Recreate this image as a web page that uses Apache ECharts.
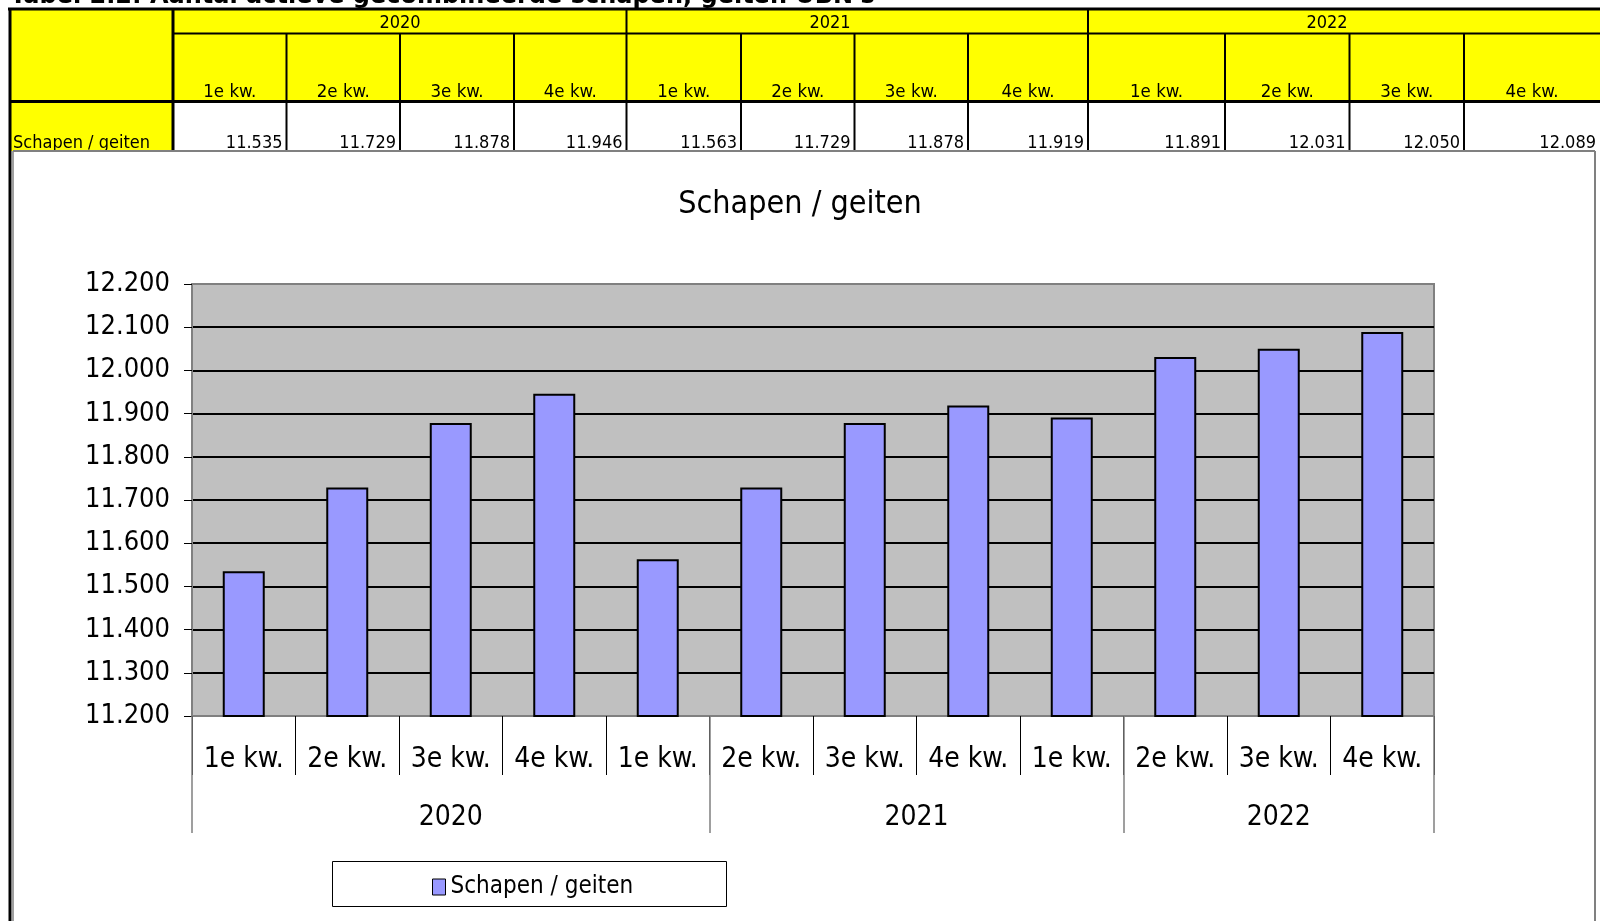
<!DOCTYPE html>
<html>
<head>
<meta charset="utf-8">
<title>Schapen / geiten</title>
<script src="https://cdn.jsdelivr.net/npm/echarts@6.0.0/dist/echarts.min.js"></script>
<style>
  html, body { margin: 0; padding: 0; background: #fff; }
  #main { width: 1600px; height: 921px; }
</style>
</head>
<body>
<div id="main"></div>
<script>
// gegevens
var tableTitle = "Tabel 2.2: Aantal actieve gecombineerde schapen, geiten UBN's";
var seriesName = "Schapen / geiten";
var quarters = ["1e kw.", "2e kw.", "3e kw.", "4e kw.", "1e kw.", "2e kw.", "3e kw.", "4e kw.", "1e kw.", "2e kw.", "3e kw.", "4e kw."];
var values = [11535, 11729, 11878, 11946, 11563, 11729, 11878, 11919, 11891, 12031, 12050, 12089];
var tableYears = ["2020", "2021", "2022"];
// in de grafiek zijn de jaren zo gegroepeerd (5 + 4 + 3 staven)
var axisYears = ["2020", "2021", "2022"];
var axisYearBreaks = [0, 5, 9, 12];
var yMin = 11200;
var yMax = 12200;
var yStep = 100;

var FONT = '"Liberation Sans Narrow", "DejaVu Sans Condensed", "Liberation Sans", sans-serif';

// 12200 -> "12.200"
function nl(v) {
  return String(v).replace(/\B(?=(\d{3})+(?!\d))/g, ".");
}

// ---- tabel boven de grafiek (graphic) ----
var colX = [10, 173, 286.5, 400, 514, 626.5, 741, 854.5, 968, 1088, 1225, 1349.5, 1464, 1600];
var yearStartCols = [1, 5, 9];
var yearTextX = [400, 830, 1327];
var g = [];

function line(x1, y1, x2, y2, w, c) {
  g.push({ type: "line", shape: { x1: x1, y1: y1, x2: x2, y2: y2 }, style: { stroke: c || "#000", lineWidth: w } });
}
function txt(x, y, s, size, align) {
  g.push({
    type: "text", x: x, y: y,
    style: { text: s, fill: "#000", fontSize: size, fontFamily: FONT, align: align, verticalAlign: "middle" }
  });
}

// titel, grotendeels buiten beeld
g.push({
  type: "text", x: 10, y: 9,
  style: { text: tableTitle, fill: "#000", fontSize: 24, fontWeight: "bold", fontFamily: '"DejaVu Sans", sans-serif', verticalAlign: "bottom" }
});

g.push({ type: "rect", shape: { x: 10, y: 9, width: 1590, height: 92.5 }, style: { fill: "#ffff00" } });
g.push({ type: "rect", shape: { x: 10, y: 101.5, width: colX[1] - 10, height: 49.5 }, style: { fill: "#ffff00" } });

line(8, 9, 1600, 9, 3);
line(10, 8, 10, 921, 3);
line(colX[1], 33.5, 1600, 33.5, 2);
line(10, 101.5, 1600, 101.5, 3);
for (var i = 1; i < colX.length - 1; i++) {
  var isYear = yearStartCols.indexOf(i) >= 0;
  line(colX[i], isYear ? 9 : 33.5, colX[i], 151, i === 1 ? 3 : 2);
}

tableYears.forEach(function (y, k) { txt(yearTextX[k], 23, y, 18, "center"); });
quarters.forEach(function (q, k) {
  txt((colX[k + 1] + colX[k + 2]) / 2, 92, q, 18.5, "center");
  txt(colX[k + 2] - 4, 143, nl(values[k]), 18, "right");
});
txt(13, 143, seriesName, 18, "left");

// kader van de grafiek
line(13, 151, 1595, 151, 2, "#808080");
line(13, 151, 13, 921, 1.5, "#808080");
line(1595, 151, 1595, 921, 2, "#808080");

// legenda kader
g.push({ type: "rect", shape: { x: 332.5, y: 861.5, width: 394, height: 45 }, style: { fill: "#fff", stroke: "#000", lineWidth: 1 } });

// ---- grafiek ----
var chart = echarts.init(document.getElementById("main"));

var gridColors = [];
for (var v = yMin; v <= yMax; v += yStep) {
  gridColors.push(v === yMin || v === yMax ? "#808080" : "#000");
}

var yearCenters = axisYears.map(function (y, k) {
  return (axisYearBreaks[k] + axisYearBreaks[k + 1]) / 2;
});

var option = {
  animation: false,
  textStyle: { fontFamily: FONT },
  title: {
    text: seriesName,
    left: "center",
    top: 184,
    textStyle: { fontSize: 32, fontWeight: "normal", color: "#000", fontFamily: FONT }
  },
  grid: {
    left: 192,
    top: 284,
    width: 1242,
    height: 432,
    show: true,
    backgroundColor: "#c0c0c0",
    borderColor: "#808080",
    borderWidth: 2
  },
  legend: {
    data: [seriesName],
    left: 432,
    top: 875,
    padding: 0,
    icon: "rect",
    itemWidth: 13,
    itemHeight: 16,
    itemStyle: { borderColor: "#000", borderWidth: 1 },
    textStyle: { fontSize: 24, color: "#000", fontFamily: FONT }
  },
  xAxis: [
    {
      type: "category",
      position: "bottom",
      data: quarters,
      axisLine: { lineStyle: { color: "#808080", width: 2 } },
      axisTick: { show: true, length: 59, lineStyle: { color: "#000", width: 1 } },
      axisLabel: { interval: 0, margin: 30, fontSize: 28, color: "#000", fontFamily: FONT }
    },
    {
      // scheidingslijnen tussen de jaren
      type: "category",
      position: "bottom",
      data: quarters,
      axisLine: { show: false },
      axisTick: {
        show: true,
        interval: function (idx) { return axisYearBreaks.indexOf(idx) >= 0; },
        length: 117,
        lineStyle: { color: "#808080", width: 1.5 }
      },
      axisLabel: { show: false }
    },
    {
      // jaartallen onder de groepen
      type: "value",
      position: "bottom",
      min: 0,
      max: quarters.length,
      interval: 0.5,
      axisLine: { show: false },
      axisTick: { show: false },
      splitLine: { show: false },
      axisLabel: {
        margin: 88,
        fontSize: 28,
        color: "#000",
        fontFamily: FONT,
        formatter: function (val) {
          for (var k = 0; k < yearCenters.length; k++) {
            if (Math.abs(val - yearCenters[k]) < 1e-6) return axisYears[k];
          }
          return "";
        }
      }
    }
  ],
  yAxis: {
    type: "value",
    min: yMin,
    max: yMax,
    interval: yStep,
    axisLine: { show: true, lineStyle: { color: "#808080", width: 2 } },
    axisTick: { show: true, length: 8, lineStyle: { color: "#000" } },
    axisLabel: { margin: 22, fontSize: 27, color: "#000", fontFamily: FONT, formatter: nl, padding: [6, 0, 0, 0] },
    splitLine: { lineStyle: { color: gridColors, width: 2 } }
  },
  series: [
    {
      name: seriesName,
      type: "bar",
      xAxisIndex: 0,
      data: values,
      barWidth: 42,
      itemStyle: { color: "#9999ff", borderColor: "#000", borderWidth: 2 }
    }
  ],
  graphic: { elements: g }
};

chart.setOption(option);
</script>
</body>
</html>
